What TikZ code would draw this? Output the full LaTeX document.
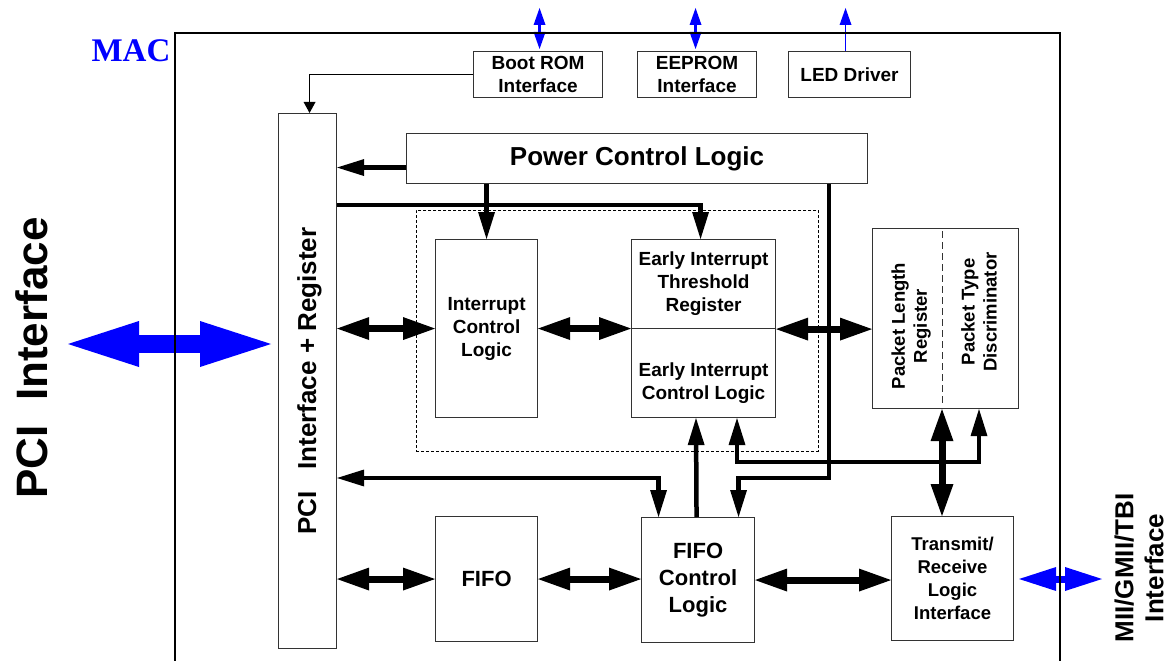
\documentclass[tikz,border=0pt]{standalone}
\usepackage{fontspec}
\setmainfont{Liberation Sans}
\newfontfamily\macfont{Liberation Serif}
\usetikzlibrary{arrows.meta}
\definecolor{pblue}{RGB}{0,0,255}
\tikzset{
  stip/.tip={Triangle[length=27pt,width=17pt,line width=0pt]},
  dtip/.tip={Triangle[length=32pt,width=23pt,line width=0pt]},
  ttip/.tip={Triangle[length=11pt,width=12pt,line width=0pt]},
  btip/.tip={Triangle[length=71pt,width=46pt,line width=0pt]},
  mtip/.tip={Triangle[length=37pt,width=24pt,line width=0pt]},
  utip/.tip={Triangle[length=17pt,width=12pt,line width=0pt]},
  box/.style={draw=black!80, line width=1.1pt, inner sep=0pt, anchor=north west,
    align=center, font=\fontsize{19}{23}\selectfont\bfseries},
  dashbox/.style={draw=black, line width=0.9pt, dash pattern=on 3pt off 2pt,
    inner sep=0pt, anchor=north west},
  lbl/.style={align=center, inner sep=0pt, font=\fontsize{19}{22.5}\selectfont\bfseries},
  sarr/.style={line width=4.5pt, -stip},
  sarrb/.style={line width=4.5pt, stip-stip},
  darr/.style={line width=7pt, dtip-dtip},
  thinarr/.style={line width=1.5pt, -ttip},
  bigblue/.style={pblue, line width=18pt, btip-btip},
  midblue/.style={pblue, line width=7pt, mtip-mtip},
  topblueb/.style={pblue, line width=2.5pt, utip-utip},
  topblues/.style={pblue, line width=1.8pt, -utip},
  macline/.style={draw=black, line width=1.3pt},
}
\begin{document}
\begin{tikzpicture}[x=1pt,y=-1pt]
\useasboundingbox (0,0) rectangle (1171,661);

% top boxes
\node[box, minimum width=129pt, minimum height=46pt] (boot) at (473,51) {Boot ROM\\Interface};
\node[box, minimum width=119pt, minimum height=46pt] (eeprom) at (637,51) {EEPROM\\Interface};
\node[box, minimum width=122pt, minimum height=46pt] (led) at (788,51) {LED Driver};

% power
\node[box, minimum width=461pt, minimum height=50pt, font=\fontsize{26}{30}\selectfont\bfseries] (power) at (406,133) {Power Control Logic};

% PCI interface + register
\node[box, minimum width=58pt, minimum height=535pt] (pci) at (278,113) {};
\node[rotate=90, inner sep=0pt, font=\fontsize{26}{30}\selectfont\bfseries] (pcitxt) at ([xshift=2pt]pci.center) {PCI\ \ \ Interface + Register};

% dashed group
\node[dashbox, minimum width=402pt, minimum height=241pt] (grp) at (416,210) {};
\node[box, minimum width=102pt, minimum height=178pt] (intr) at (435,239) {Interrupt\\Control\\Logic};
\node[box, minimum width=144pt, minimum height=89pt] (eith) at (631,239) {Early Interrupt\\Threshold\\Register};
\node[box, minimum width=144pt, minimum height=89pt] (eicl) at (631,328) {};
\node[lbl] (eicltxt) at ([yshift=-10pt]eicl.center) {Early Interrupt\\Control Logic};

% packet box
\node[box, minimum width=146pt, minimum height=180pt] (pkt) at (872,228) {};
\coordinate (pd1) at ([yshift=-3pt]pkt.north -| 942,0);
\coordinate (pd2) at ([yshift=3pt]pkt.south -| 942,0);
\draw[black!80, line width=1pt, dash pattern=on 7pt off 4pt] (pd1) -- (pd2);
\node[lbl, rotate=90, font=\fontsize{18.5}{22}\selectfont\bfseries] (pkl) at (911,326) {Packet Length\\Register};
\node[lbl, rotate=90, font=\fontsize{18.5}{22}\selectfont\bfseries] (pkd) at (979,312) {Packet Type\\Discriminator};

% bottom row
\node[box, minimum width=102pt, minimum height=125pt, font=\fontsize{22}{27}\selectfont\bfseries] (fifo) at (435,516) {FIFO};
\node[box, minimum width=113pt, minimum height=125pt, font=\fontsize{22}{27}\selectfont\bfseries] (fcl) at (641,517) {FIFO\\Control\\Logic};
\node[box, minimum width=122pt, minimum height=124pt, font=\fontsize{18.5}{23}\selectfont\bfseries] (trl) at (891,516) {Transmit/\\Receive\\Logic\\Interface};

% external labels
\node[inner sep=0pt, anchor=base, font=\macfont\fontsize{33}{36}\selectfont\bfseries, text=pblue] (mac) at (131,62) {MAC};
\node[rotate=90, inner sep=0pt, font=\fontsize{44}{48}\selectfont\bfseries] (pciext) at (32,358) {PCI\ \ Interface};
\node[rotate=90, inner sep=0pt, align=center, font=\fontsize{26}{30}\selectfont\bfseries] (miitxt) at (1139,568) {MII/GMII/TBI\\Interface};

% connectors
\draw[thinarr] (boot.west) -| ([xshift=2pt]pci.north);
\coordinate (p1) at ([yshift=-9pt]power.west);
\draw[sarr] (p1) -- (pci.east |- p1);
\draw[sarr] (pci.east |- 0,205) -| ([xshift=-3pt]eith.north);
\draw[sarr] (power.south -| intr.north) -- (intr.north);
\draw[darr] (pci.east |- intr.west) -- (intr.west);
\draw[darr] (intr.east) -- (intr.east -| eith.west);
\draw[darr] (eith.south east) -- (eith.south east -| pkt.west);
\draw[sarr] (power.south -| 829,0) -- (829,478) -| ([xshift=40.5pt]fcl.north);
\draw[sarrb] (pci.east |- 0,478) -| ([xshift=-39.5pt]fcl.north);
\draw[sarr] ([xshift=-1.5pt]fcl.north) -- (eicl.south -| 696,0);
\draw[sarrb] (eicl.south -| 737,0) -- (737,462) -| (pkt.south -| 979,0);
\draw[darr] (pkt.south -| 942,0) -- (trl.north -| 942,0);
\draw[darr] (pci.east |- fifo.west) -- (fifo.west);
\draw[darr] (fifo.east) -- (fifo.east -| fcl.west);
\draw[darr] (fcl.east) -- (fcl.east -| trl.west);

% blue external arrows
\coordinate (pcil) at (68,344);
\draw[bigblue] (pcil) -- ([xshift=-7pt]pci.west |- pcil);
\coordinate (miir) at (1102,579);
\draw[midblue] ([xshift=5pt]trl.east |- miir) -- (miir);
\coordinate (topb) at (0,8);
\draw[topblueb] ([xshift=1.5pt,yshift=2pt]boot.north) -- ([xshift=1.5pt]boot.north |- topb);
\draw[topblueb] ([xshift=-1.5pt,yshift=2pt]eeprom.north) -- ([xshift=-1.5pt]eeprom.north |- topb);
\draw[topblues] ([xshift=-4pt]led.north) -- ([xshift=-4pt]led.north |- topb);

% MAC boundary
\draw[macline] (175,661) -- (175,33) -- (1060,33) -- (1060,661);
\end{tikzpicture}
\end{document}
